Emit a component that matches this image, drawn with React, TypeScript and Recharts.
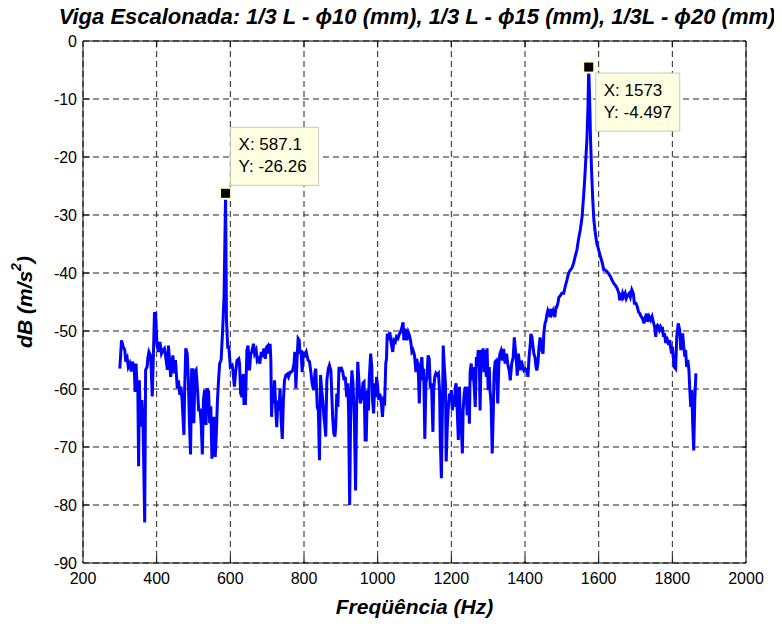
import React from 'react';
import {
  LineChart,
  Line,
  XAxis,
  YAxis,
  CartesianGrid,
  ReferenceDot,
  ReferenceLine,
  ReferenceArea,
  Label,
} from 'recharts';

// Frequency response of the stepped beam (dB re 1 m/s²)
const freqHz = [
  300, 304.5, 309, 313.5, 316, 320, 323, 327, 331, 334, 339, 341.5, 344, 346, 349, 351, 353, 356, 360, 363,
  367.5, 370, 374, 376, 379, 383, 385, 388, 391, 394, 397, 401, 405, 409, 413, 417, 421, 424, 429, 432,
  435, 438, 441, 444, 448, 451, 456, 459, 463, 466, 469, 474, 476, 479, 483, 486, 489, 492, 495, 498,
  501, 504, 507, 511, 514, 518, 521, 524, 527, 530, 534, 537, 541, 544, 547, 550, 555, 559, 562, 565,
  568, 571, 575, 579, 583, 587.1, 589.5, 593, 596, 600, 605, 607, 611, 614, 618, 623, 625, 628, 632, 635,
  637, 641, 645, 648, 652, 655, 658, 663, 666, 670, 673, 676, 680, 684, 687, 691, 695, 698, 702, 705,
  708, 710, 712, 715, 717, 720, 724, 726, 729, 732, 735, 738, 741, 744, 747, 751, 755, 758, 762, 765,
  769, 773, 775, 778, 781, 784, 787, 789, 792, 795, 798, 802, 806, 811, 815, 819, 822, 826, 830, 832,
  836, 839, 842, 845, 848, 851, 854, 857, 859, 862, 866, 869, 873, 876, 878, 881, 884, 886, 889, 892,
  895, 898, 902, 905, 909, 912, 916, 919, 921, 924, 927, 930, 933, 937, 940, 943, 946, 950, 953, 957,
  960, 963, 966, 969, 972, 975, 977, 981, 984, 986, 989, 992, 995, 997, 1000, 1003, 1006, 1010, 1013, 1016,
  1019, 1022, 1024, 1026, 1030, 1033, 1037, 1041, 1044, 1048, 1051, 1055, 1059, 1062, 1066, 1069, 1071, 1075, 1079, 1083,
  1086, 1090, 1093, 1096, 1100, 1104, 1106, 1110, 1113, 1116, 1120, 1123, 1125, 1128, 1131, 1134, 1137, 1140, 1143, 1146,
  1150, 1152, 1155, 1158, 1161, 1165, 1168, 1170, 1173, 1176, 1178, 1181, 1184, 1186, 1189, 1192, 1195, 1197, 1200, 1203,
  1205, 1208, 1211, 1213, 1216, 1219, 1222, 1224, 1227, 1230, 1232, 1235, 1238, 1241, 1243, 1246, 1249, 1251, 1254, 1257,
  1259, 1262, 1265, 1268, 1270, 1273, 1276, 1278, 1281, 1284, 1286, 1289, 1292, 1295, 1297, 1300, 1303, 1305, 1308, 1311,
  1314, 1316, 1319, 1322, 1326, 1329, 1332, 1335, 1339, 1342, 1346, 1350, 1353, 1357, 1360, 1364, 1368, 1371, 1374, 1377,
  1379, 1382, 1385, 1387, 1390, 1394, 1397, 1401, 1405, 1408, 1411, 1414, 1416, 1419, 1422, 1424, 1427, 1430, 1432, 1435,
  1438, 1441, 1443, 1446, 1449, 1451, 1454, 1457, 1459, 1462, 1465, 1468, 1470, 1473, 1476, 1478, 1481, 1484, 1486, 1489,
  1492, 1496, 1500, 1505, 1509, 1514, 1518, 1523, 1527, 1532, 1536, 1541, 1545, 1550, 1555, 1559, 1562, 1565, 1568, 1571,
  1573, 1576, 1578, 1581, 1584, 1587, 1591, 1595, 1600, 1605, 1610, 1614, 1618, 1623, 1627, 1632, 1636, 1641, 1645, 1650,
  1655, 1657, 1660, 1663, 1665, 1668, 1672, 1675, 1679, 1683, 1686, 1690, 1694, 1697, 1701, 1705, 1708, 1712, 1715, 1719,
  1723, 1726, 1730, 1733, 1737, 1741, 1745, 1748, 1752, 1755, 1757, 1760, 1763, 1765, 1768, 1771, 1773, 1776, 1779, 1782,
  1784, 1787, 1790, 1793, 1795, 1798, 1800, 1805, 1809, 1812, 1816, 1820, 1823, 1825, 1828, 1831, 1834, 1836, 1839, 1842,
  1845, 1847, 1850, 1853, 1855, 1858, 1861, 1864,
];

const magDb = [
  -56.5, -51.6, -52.7, -53.3, -55.3, -54.7, -56.2, -55.6, -57, -55.3, -56.2, -60.5, -55.6, -58.5, -60.7, -73.3, -58.5, -66.5, -61.9, -65.9,
  -83, -56.7, -56.2, -54.7, -53.6, -54.2, -56.2, -61.3, -54.5, -47, -47, -52.5, -53.6, -51.9, -53.9, -53.3, -53, -54.2, -56.7, -52.5,
  -55, -57.9, -56.2, -54.2, -57.3, -55, -59.9, -58.5, -61, -59.6, -61.9, -67.9, -60.2, -53, -53.9, -58.5, -65.9, -71.3, -56.7, -56.7,
  -65.9, -57, -56.7, -60.2, -63.6, -63.6, -66.2, -71.3, -61.9, -60.2, -66.2, -59.9, -60.5, -65.9, -63, -72, -64.8, -71.7, -67.7, -62,
  -58.5, -55.6, -55, -50, -44, -26.26, -48.2, -52.8, -52.8, -56.2, -55.9, -56.8, -59.6, -57.4, -55.1, -54.8, -55.6, -60.8, -61.4, -57.4,
  -62.5, -62.5, -53.3, -52.5, -56.8, -54.2, -53.6, -52.2, -53.9, -53.3, -55.1, -54.8, -55.6, -53.6, -54.5, -53, -54.8, -52.8, -52.5, -53.9,
  -52.2, -55.1, -64.8, -60.2, -62.5, -58.5, -64.3, -66.6, -62, -63.7, -59.9, -65.4, -68.6, -62, -58.5, -57.6, -57.4, -57.9, -57.1, -57.1,
  -56.8, -55.6, -53.6, -59.9, -55.1, -51.3, -51.6, -53.9, -53.3, -57.1, -53.9, -54.2, -53.6, -55, -55.3, -57.3, -59, -60.2, -57, -56.5,
  -63.1, -63.7, -72.3, -57.6, -60.2, -61.9, -64.8, -66.5, -68.2, -58.5, -56.5, -55.9, -56.8, -61.9, -65.1, -67.7, -68.2, -66.5, -60.8, -63.1,
  -56.2, -56.8, -56.5, -57, -58.5, -57.9, -61.4, -59, -63.7, -80, -61.4, -56.8, -59, -66, -77.5, -62.5, -55.3, -59.6, -62.5, -61.4,
  -59, -58.8, -68.8, -68.8, -60.2, -63.7, -58.5, -53.9, -56.2, -61.9, -64.2, -59, -61.4, -57.9, -59.6, -61.9, -60.8, -62.5, -64.8, -61.9,
  -62.2, -55.6, -54.8, -50.5, -51, -50.2, -52.2, -53.6, -51.6, -51.9, -51, -51.3, -50.5, -50.2, -49.3, -48.5, -51.6, -49.6, -51.6, -50.2,
  -50.7, -51.9, -53.6, -53.3, -54.2, -57.1, -54.8, -56.2, -62.5, -56.2, -54.5, -58.5, -56.5, -68.6, -59, -57.9, -54.2, -54.8, -59.9, -59,
  -67.4, -60.2, -57.9, -57.3, -57.6, -57.3, -60.2, -68.8, -75.4, -62.5, -52.5, -56.2, -59, -72.5, -66.5, -63.1, -60.8, -61.9, -60.2, -63.7,
  -61.1, -63.1, -59.6, -59, -63.7, -68.8, -59.6, -64.2, -66.5, -71.1, -63.7, -60.8, -59.6, -61.4, -64.5, -59.6, -66, -57.1, -55.6, -58.5,
  -56.2, -59.6, -63.1, -54.5, -56.2, -53.3, -55.3, -63.7, -53.3, -54.5, -53, -57.1, -53.3, -57.9, -53, -60.2, -56.2, -60.2, -62.5, -71.1,
  -63.7, -57.3, -55.3, -55.1, -62.5, -55.6, -53.9, -53.4, -55.1, -53.1, -55.6, -53.9, -55.6, -56.8, -58.5, -55.6, -54.5, -51.1, -53.4, -55.6,
  -57.7, -53.9, -55.6, -56.8, -55.1, -56.2, -56.8, -56.5, -56.8, -57.9, -54.5, -52.5, -50.5, -51.1, -52.8, -53.9, -54.5, -56.2, -56.8, -55.6,
  -52.8, -51.1, -52.2, -53.4, -53.9, -50.5, -48.8, -48.2, -47.3, -46.5, -47, -47.6, -46.2, -47, -46.5, -47, -47.6, -45.9, -45.9, -45.3,
  -44.2, -43.9, -43.5, -43.5, -42.4, -41.2, -40.1, -39.5, -39.2, -38.3, -37.2, -36, -34.3, -32.6, -30.3, -26.8, -24, -20.5, -17.1, -11.3,
  -4.497, -11.3, -17.1, -22.8, -27.4, -30.9, -33.2, -34.9, -36, -37.2, -38.3, -39.5, -39.5, -39.8, -40.1, -40.6, -41.2, -41.8, -42.1, -42.6,
  -43.5, -44.7, -43.5, -44.1, -43.5, -44.1, -43.5, -44.4, -43.8, -43.5, -44.1, -42.9, -43.5, -45.2, -45.2, -45.8, -46.7, -47, -47.5, -47.8,
  -48.7, -47.8, -47, -48.4, -47.5, -48.1, -47.5, -48.4, -49.3, -51, -49.3, -49, -49.3, -49.8, -49.3, -49.8, -49.3, -51, -50.4, -52.1,
  -51, -51.6, -52.4, -51.6, -52.7, -53.9, -52.7, -56.2, -56.5, -51, -48.7, -49.8, -53.3, -51.6, -50.4, -52.7, -54.4, -53.3, -56.2, -55,
  -56.7, -59.6, -63.1, -60.2, -65.4, -70.6, -61.9, -57.3,
];

const xTicks = [200, 400, 600, 800, 1000, 1200, 1400, 1600, 1800, 2000];
const yTicks = [-90, -80, -70, -60, -50, -40, -30, -20, -10, 0];

// Data tips: value pairs, box width, and box offset from the marker (px)
const dataTips = [
  { x: 587.1, y: -26.26, w: 88, dx: 5, dy: -66 },
  { x: 1573, y: -4.497, w: 84, dx: 7, dy: 6 },
];

const X_MIN = 200;
const X_MAX = 2000;
const Y_MIN = -90;
const Y_MAX = 0;

const FONT = "Arial, 'Liberation Sans', Helvetica, sans-serif";

const rows = freqHz.map((f, i) => ({ f, db: magDb[i] }));

// Inward tick marks on all four sides, like a boxed plot
const TICK_DB = 1.1;
const TICK_HZ = 18;

const DataTipShape = (props: any) => {
  const { cx, cy, tip } = props;
  if (cx == null || cy == null) return null;
  const bx = cx + tip.dx;
  const by = cy + tip.dy;
  return (
    <g>
      <rect x={bx} y={by} width={tip.w} height={58} fill="#FFFFE1" stroke="#C9C9B8" strokeWidth={1} />
      <text x={bx + 8} y={by + 23} fontFamily={FONT} fontSize={17} fill="#000">
        {`X: ${tip.x}`}
      </text>
      <text x={bx + 8} y={by + 45} fontFamily={FONT} fontSize={17} fill="#000">
        {`Y: ${tip.y}`}
      </text>
      <rect x={cx - 5.5} y={cy - 5.5} width={11} height={11} fill="#000" stroke="#FFFFC8" strokeWidth={2} />
    </g>
  );
};

const YLabel = (props: any) => {
  const vb = props.viewBox || {};
  const cy = (vb.y ?? 0) + (vb.height ?? 0) / 2;
  const cx = 16;
  return (
    <text
      x={cx}
      y={cy}
      transform={`rotate(-90, ${cx}, ${cy})`}
      textAnchor="middle"
      dominantBaseline="central"
      fontFamily={FONT}
      fontSize={21}
      fontWeight="bold"
      fontStyle="italic"
      fill="#000"
    >
      dB (m/s
      <tspan dy={-8} fontSize={14}>2</tspan>
      <tspan dy={8}>)</tspan>
    </text>
  );
};

const XLabel = (props: any) => {
  const vb = props.viewBox || {};
  const cx = (vb.x ?? 0) + (vb.width ?? 0) / 2;
  return (
    <text
      x={cx}
      y={606}
      textAnchor="middle"
      fontFamily={FONT}
      fontSize={21}
      fontWeight="bold"
      fontStyle="italic"
      fill="#000"
    >
      Freqüência (Hz)
    </text>
  );
};

export default function App() {
  return (
    <div style={{ position: 'relative', width: 774, height: 612, fontFamily: FONT }}>
      <div
        style={{
          position: 'absolute',
          left: 0,
          width: 818,
          top: -3,
          textAlign: 'center',
          fontFamily: FONT,
          fontSize: 22,
          fontWeight: 'bold',
          fontStyle: 'italic',
          color: '#000',
          whiteSpace: 'nowrap',
          lineHeight: '24px',
        }}
      >
        Viga Escalonada: 1/3 L - ϕ10 (mm), 1/3 L - ϕ15 (mm), 1/3L - ϕ20 (mm)
      </div>
      <LineChart
        width={774}
        height={612}
        data={rows}
        margin={{ top: 33, right: 36, bottom: 27, left: 0 }}
      >
        <CartesianGrid stroke="#222" strokeDasharray="6 4" />
        <XAxis
          dataKey="f"
          type="number"
          domain={[X_MIN, X_MAX]}
          ticks={xTicks}
          interval={0}
          allowDataOverflow
          axisLine={false}
          tickLine={false}
          tickSize={4}
          tickMargin={6}
          height={30}
          tick={{ fontSize: 16, fill: '#000', fontFamily: FONT }}
        >
          <Label content={<XLabel />} />
        </XAxis>
        <YAxis
          type="number"
          domain={[Y_MIN, Y_MAX]}
          ticks={yTicks}
          interval={0}
          allowDataOverflow
          axisLine={false}
          tickLine={false}
          tickSize={3}
          tickMargin={3}
          width={75}
          tick={{ fontSize: 16, fill: '#000', fontFamily: FONT }}
        >
          <Label content={<YLabel />} />
        </YAxis>
        {xTicks.slice(1, -1).map((t) => (
          <ReferenceLine
            key={`bx${t}`}
            segment={[{ x: t, y: Y_MIN }, { x: t, y: Y_MIN + TICK_DB }]}
            stroke="#000"
          />
        ))}
        {xTicks.slice(1, -1).map((t) => (
          <ReferenceLine
            key={`tx${t}`}
            segment={[{ x: t, y: Y_MAX }, { x: t, y: Y_MAX - TICK_DB }]}
            stroke="#000"
          />
        ))}
        {yTicks.slice(1, -1).map((t) => (
          <ReferenceLine
            key={`ly${t}`}
            segment={[{ x: X_MIN, y: t }, { x: X_MIN + TICK_HZ, y: t }]}
            stroke="#000"
          />
        ))}
        {yTicks.slice(1, -1).map((t) => (
          <ReferenceLine
            key={`ry${t}`}
            segment={[{ x: X_MAX, y: t }, { x: X_MAX - TICK_HZ, y: t }]}
            stroke="#000"
          />
        ))}
        <ReferenceArea x1={X_MIN} x2={X_MAX} y1={Y_MIN} y2={Y_MAX} fill="none" stroke="#000" strokeWidth={1} />
        <Line
          type="linear"
          dataKey="db"
          stroke="#0000FF"
          strokeWidth={3}
          dot={false}
          isAnimationActive={false}
        />
        {dataTips.map((tip) => (
          <ReferenceDot
            key={`tip${tip.x}`}
            x={tip.x}
            y={tip.y}
            r={5}
            shape={(p: any) => <DataTipShape {...p} tip={tip} />}
          />
        ))}
      </LineChart>
    </div>
  );
}
